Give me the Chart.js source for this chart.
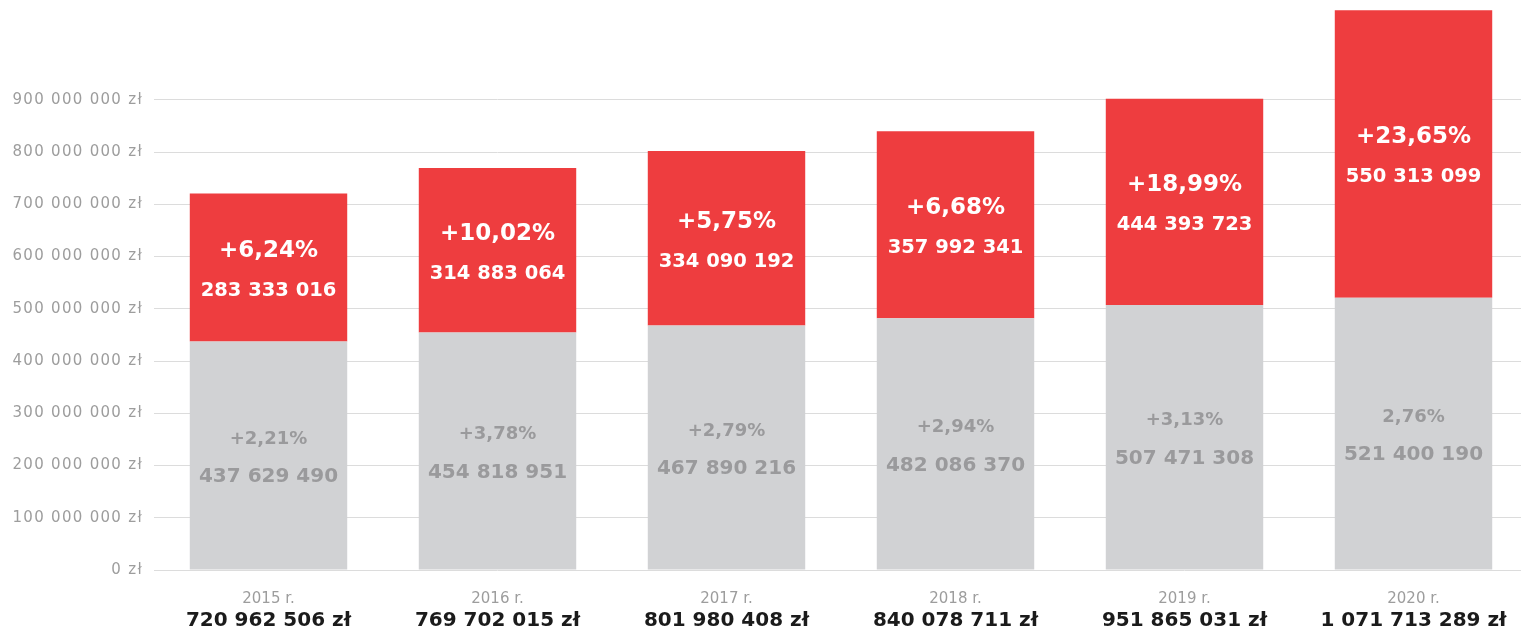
<!DOCTYPE html>
<html>
<head>
<meta charset="utf-8">
<script src="https://cdn.jsdelivr.net/npm/chart.js@4"></script>
<style>
html,body{margin:0;padding:0;background:#fff;overflow:hidden;}
#wrap{position:absolute;left:0;top:0;width:1530px;height:631px;}
</style>
</head>
<body>
<div id="wrap"><canvas id="c" width="1530" height="631"></canvas></div>
<script>
// ---- data ----
const years = ['2015 r.', '2016 r.', '2017 r.', '2018 r.', '2019 r.', '2020 r.'];
const totals = ['720 962 506 zł', '769 702 015 zł', '801 980 408 zł', '840 078 711 zł', '951 865 031 zł', '1 071 713 289 zł'];
const baseValues = [437629490, 454818951, 467890216, 482086370, 507471308, 521400190];
const growthValues = [283333016, 314883064, 334090192, 357992341, 394500000, 550313099];
const baseLabels = ['437 629 490', '454 818 951', '467 890 216', '482 086 370', '507 471 308', '521 400 190'];
const basePct = ['+2,21%', '+3,78%', '+2,79%', '+2,94%', '+3,13%', '2,76%'];
const growthLabels = ['283 333 016', '314 883 064', '334 090 192', '357 992 341', '444 393 723', '550 313 099'];
const growthPct = ['+6,24%', '+10,02%', '+5,75%', '+6,68%', '+18,99%', '+23,65%'];
const yTicks = [0, 100000000, 200000000, 300000000, 400000000, 500000000, 600000000, 700000000, 800000000, 900000000];
const yMax = 1072000000;

const FONT = '"DejaVu Sans", sans-serif';

const spacing = {
  id: 'spacing',
  beforeDraw(chart) { chart.ctx.letterSpacing = '1.3px'; },
  beforeDatasetsDraw(chart) { chart.ctx.letterSpacing = '0px'; },
  afterDraw(chart) { chart.ctx.letterSpacing = '0px'; }
};

const barLabels = {
  id: 'barLabels',
  afterDatasetsDraw(chart) {
    const ctx = chart.ctx;
    ctx.save();
    ctx.letterSpacing = '0px';
    ctx.textAlign = 'center';
    ctx.textBaseline = 'middle';
    chart.data.datasets.forEach((ds, di) => {
      const meta = chart.getDatasetMeta(di);
      meta.data.forEach((bar, i) => {
        const cy = (bar.y + bar.base) / 2;
        if (di === 0) {
          ctx.fillStyle = '#9a9a9c';
          ctx.font = 'bold 18px ' + FONT;
          ctx.fillText(basePct[i], bar.x, cy - 16.5);
          ctx.font = 'bold 20px ' + FONT;
          ctx.fillText(baseLabels[i], bar.x, cy + 21.5);
        } else {
          ctx.fillStyle = '#ffffff';
          ctx.font = 'bold 23px ' + FONT;
          ctx.fillText(growthPct[i], bar.x, cy - 16.5);
          ctx.font = 'bold 19.5px ' + FONT;
          ctx.fillText(growthLabels[i], bar.x, cy + 23.5);
        }
      });
    });
    ctx.restore();
  }
};

new Chart(document.getElementById('c'), {
  type: 'bar',
  data: {
    labels: years,
    datasets: [
      { data: baseValues, backgroundColor: '#d1d2d4', barPercentage: 0.6875, categoryPercentage: 1 },
      { data: growthValues, backgroundColor: '#ee3d3f', barPercentage: 0.6875, categoryPercentage: 1 }
    ]
  },
  options: {
    responsive: false,
    animation: false,
    layout: { padding: { top: 10, right: 2, left: 0, bottom: 0 } },
    plugins: { legend: { display: false }, tooltip: { enabled: false } },
    scales: {
      x: {
        stacked: true,
        position: 'bottom',
        weight: 0,
        grid: { display: false, drawTicks: false },
        border: { display: false },
        ticks: { z: 1, color: '#9d9d9d', font: { family: FONT, size: 15 }, padding: 20, maxRotation: 0 },
        afterFit: s => { s.height = 36; }
      },
      x2: {
        type: 'category',
        labels: totals,
        position: 'bottom',
        weight: 1,
        offset: true,
        grid: { display: false, drawTicks: false },
        border: { display: false },
        ticks: { z: 1, color: '#1b1b1b', font: { family: FONT, size: 20, weight: 'bold' }, padding: 3, maxRotation: 0 },
        afterFit: s => { s.height = 25; }
      },
      y: {
        stacked: true,
        min: 0,
        max: yMax,
        grid: { color: '#dcdcdc', drawTicks: false },
        border: { display: false },
        afterBuildTicks: s => { s.ticks = yTicks.map(v => ({ value: v })); },
        afterFit: s => { s.width = 154; s.paddingTop = 0; s.paddingBottom = 0; },
        ticks: {
          color: '#9d9d9d',
          font: { family: FONT, size: 15 },
          padding: 11,
          callback: v => (v === 0 ? '0' : String(v).replace(/\B(?=(\d{3})+(?!\d))/g, ' ')) + ' zł'
        }
      }
    }
  },
  plugins: [spacing, barLabels]
});
</script>
</body>
</html>
